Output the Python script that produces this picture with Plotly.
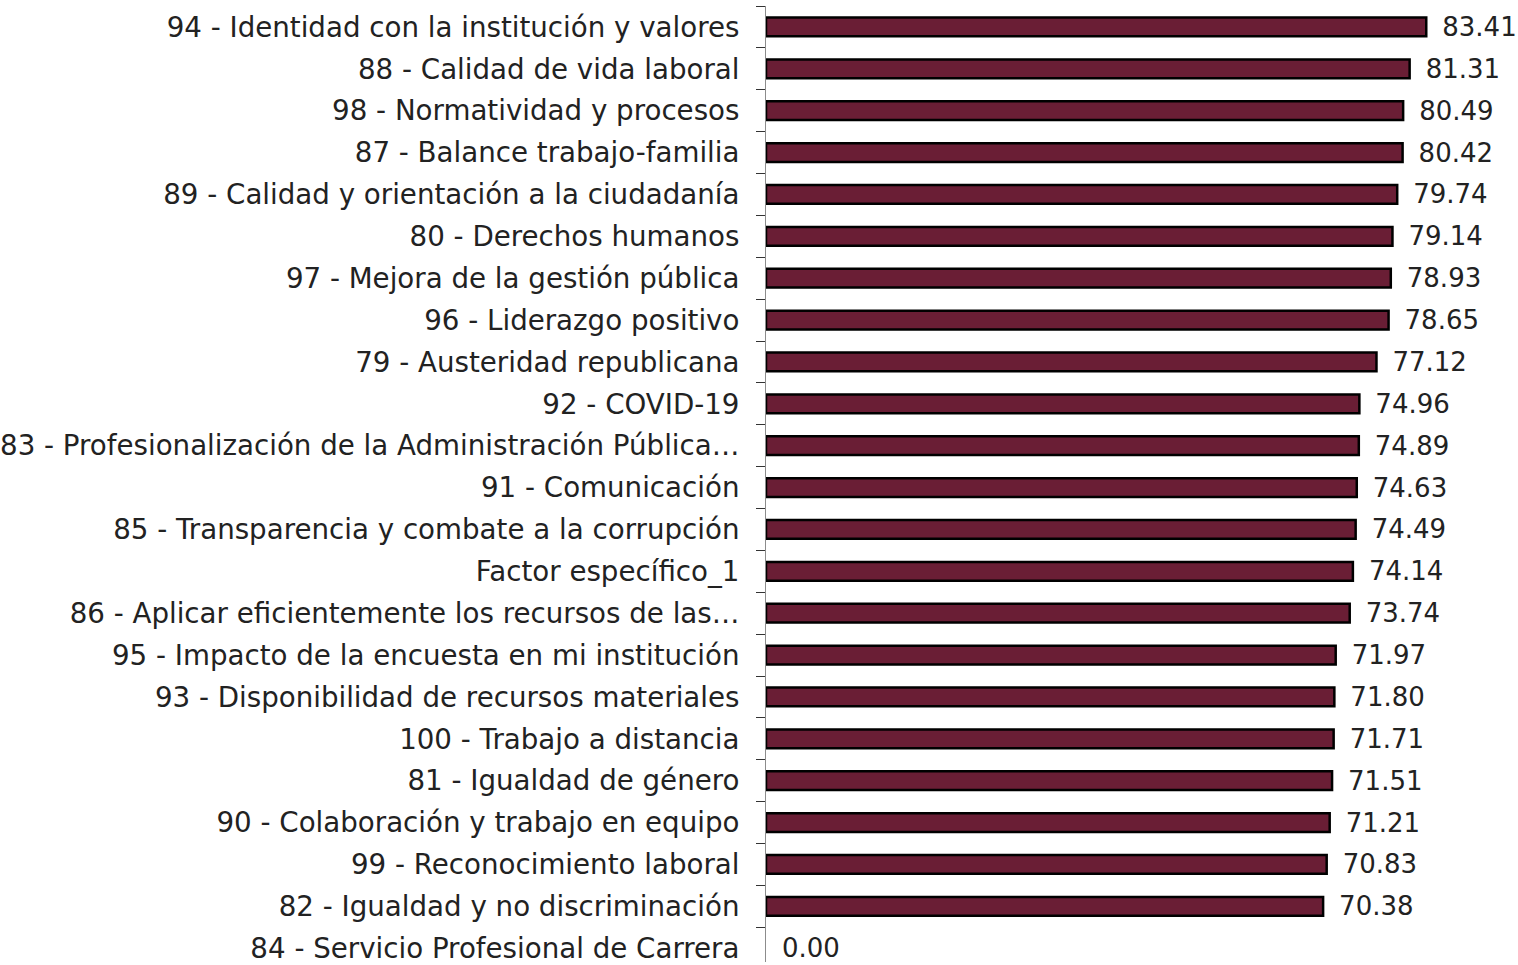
import plotly.graph_objects as go

# Factores de la encuesta y su puntaje promedio
factores = [
    "94 - Identidad con la institución y valores",
    "88 - Calidad de vida laboral",
    "98 - Normatividad y procesos",
    "87 - Balance trabajo-familia",
    "89 - Calidad y orientación a la ciudadanía",
    "80 - Derechos humanos",
    "97 - Mejora de la gestión pública",
    "96 - Liderazgo positivo",
    "79 - Austeridad republicana",
    "92 - COVID-19",
    "83 - Profesionalización de la Administración Pública…",
    "91 - Comunicación",
    "85 - Transparencia y combate a la corrupción",
    "Factor específico_1",
    "86 - Aplicar eficientemente los recursos de las…",
    "95 - Impacto de la encuesta en mi institución",
    "93 - Disponibilidad de recursos materiales",
    "100 - Trabajo a distancia",
    "81 - Igualdad de género",
    "90 - Colaboración y trabajo en equipo",
    "99 - Reconocimiento laboral",
    "82 - Igualdad y no discriminación",
    "84 - Servicio Profesional de Carrera",
]
puntajes = [
    83.41, 81.31, 80.49, 80.42, 79.74, 79.14, 78.93, 78.65, 77.12, 74.96,
    74.89, 74.63, 74.49, 74.14, 73.74, 71.97, 71.80, 71.71, 71.51, 71.21,
    70.83, 70.38, 0.00,
]

FONT = "DejaVu Sans"
TEXT = "#222222"

# Sin contorno en barras de longitud cero
contorno = [2.5 if v > 0 else 0 for v in puntajes]

fig = go.Figure(
    go.Bar(
        x=puntajes,
        y=factores,
        orientation="h",
        width=0.45,
        marker=dict(color="#6A1E35", line=dict(color="#000000", width=contorno)),
        text=[f"{v:.2f}" for v in puntajes],
        texttemplate="\u2002%{text}",
        textposition="outside",
        constraintext="none",
        textfont=dict(family=FONT, size=26, color=TEXT),
        cliponaxis=False,
    )
)

fig.update_layout(
    width=1518,
    height=965,
    margin=dict(l=765, r=0, t=6, b=0),
    paper_bgcolor="white",
    plot_bgcolor="white",
    showlegend=False,
    font=dict(family=FONT, size=26, color=TEXT),
)

fig.update_xaxes(
    range=[0, 95],
    showgrid=False,
    zeroline=False,
    showticklabels=False,
    showline=False,
)

fig.update_yaxes(
    type="category",
    categoryorder="array",
    categoryarray=factores,
    range=[22.33, -0.5],
    showgrid=False,
    zeroline=False,
    showline=True,
    linecolor="#8c8c8c",
    linewidth=1,
    ticks="outside",
    tickson="boundaries",
    ticklen=9,
    tickcolor="#333333",
    tickwidth=1,
    ticklabelstandoff=20,
    tickfont=dict(family=FONT, size=27.7, color=TEXT),
)

fig.write_html("out.html")
